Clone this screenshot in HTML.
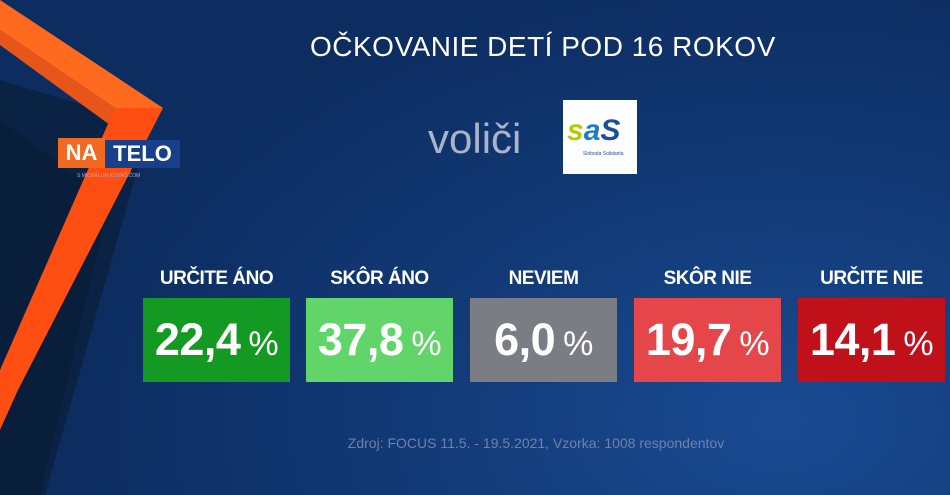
<!DOCTYPE html>
<html><head><meta charset="utf-8"><style>
*{margin:0;padding:0;box-sizing:border-box}
body{width:950px;height:495px;overflow:hidden;font-family:"Liberation Sans",sans-serif;}
#c{position:relative;width:950px;height:495px;overflow:hidden;
background:radial-gradient(ellipse 700px 450px at 780px 420px,#1a4b93 0%,#133c7a 45%,#0d2d61 100%);}
.t{position:absolute;color:#fff;white-space:nowrap}
.box{position:absolute;top:298px;width:147px;height:84px;color:#fff;text-align:center;line-height:84px;font-weight:bold;font-size:45px;letter-spacing:-0.5px}
.box span{font-weight:normal;font-size:34px;margin-left:8px}
.lab{position:absolute;top:268px;width:147px;text-align:center;color:#fff;font-size:19px;font-weight:bold;letter-spacing:-0.5px}
</style></head><body><div id="c">
<svg width="950" height="495" style="position:absolute;left:0;top:0">
<polygon points="0,120 110,200 40,495 0,495" fill="#081a33"/>
<polygon points="0,80 150,125 45,495 0,495" fill="#0a1f3d" opacity="0.8"/>
<polygon points="0,0 0,30 115,108 163,108" fill="#ff6a1f"/>
<polygon points="0,30 0,45 110,125 115,108" fill="#e8551a"/>
<polygon points="115,108 163,108 18,390 0,390 0,370" fill="#ff4e12"/>
<polygon points="0,390 18,390 0,430" fill="#ff4e12"/>
</svg>
<div style="position:absolute;left:58px;top:138px;width:47px;height:30px;background:#f26a21;color:#fff;font-weight:bold;font-size:22px;line-height:30px;text-align:center">NA</div>
<div style="position:absolute;left:105px;top:140px;width:75px;height:28px;background:#1a3f8a;color:#fff;font-weight:bold;font-size:22px;line-height:28px;text-align:center">TELO</div>
<div class="t" style="left:77px;top:173px;font-size:5px;color:#aab">S MICHALOM KOVAČIČOM</div>
<div class="t" style="left:310px;top:31px;font-size:28px;letter-spacing:0.5px">OČKOVANIE DETÍ POD 16 ROKOV</div>
<div class="t" style="left:428px;top:115px;font-size:42px;color:#a8b4c8">voliči</div>
<div style="position:absolute;left:563px;top:100px;width:74px;height:74px;background:#fff">
<div style="position:absolute;left:4px;top:14px;font-size:30px;font-weight:bold;font-style:italic;color:#b6c800">s<span style="color:#1b7dc2">a</span><span style="color:#1b4f9a">S</span></div>
<div style="position:absolute;left:20px;top:51px;font-size:5px;color:#1b4f9a">Sloboda Solidarita</div>
</div>
<div class="lab" style="left:143px">URČITE ÁNO</div>
<div class="lab" style="left:306px">SKÔR ÁNO</div>
<div class="lab" style="left:470px">NEVIEM</div>
<div class="lab" style="left:634px">SKÔR NIE</div>
<div class="lab" style="left:798px">URČITE NIE</div>
<div class="box" style="left:143px;background:#149a22">22,4<span>%</span></div>
<div class="box" style="left:306px;background:#62d56a">37,8<span>%</span></div>
<div class="box" style="left:470px;background:#7b7d85">6,0<span>%</span></div>
<div class="box" style="left:634px;background:#e5464a">19,7<span>%</span></div>
<div class="box" style="left:798px;background:#c0101a">14,1<span>%</span></div>
<div class="t" style="left:0;width:1072px;text-align:center;top:435px;font-size:14px;color:#6d82a8">Zdroj: FOCUS 11.5. - 19.5.2021, Vzorka: 1008 respondentov</div>
</div></body></html>
